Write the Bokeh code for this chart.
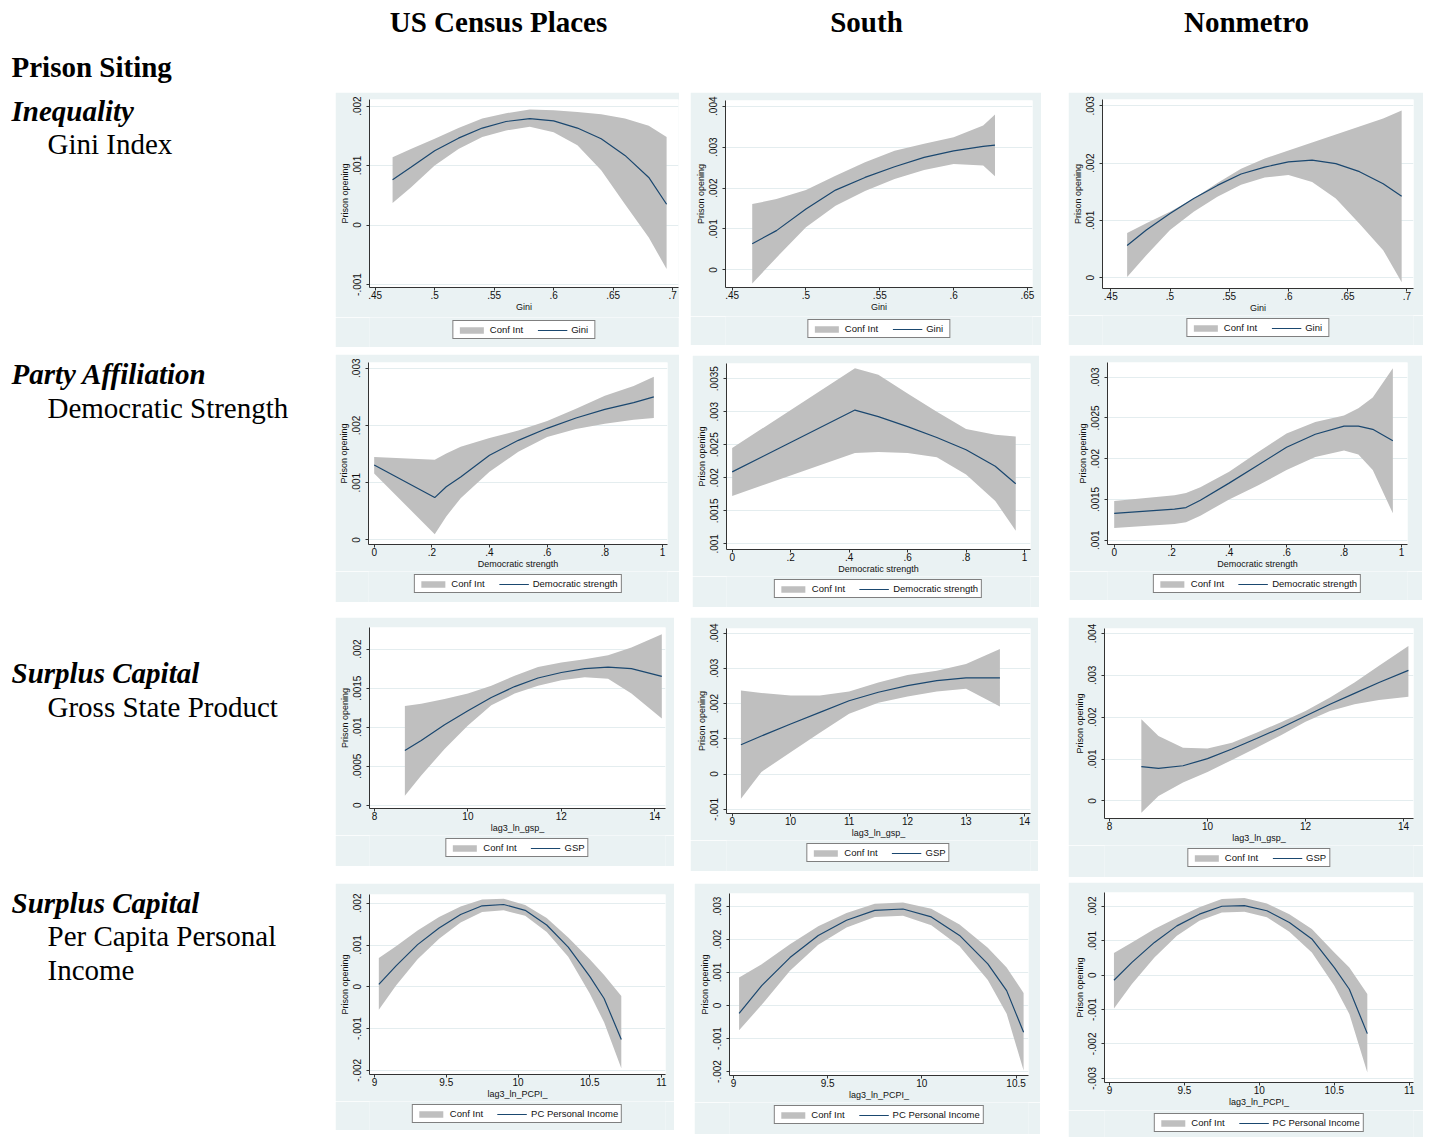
from bokeh.plotting import figure
from bokeh.models import Range1d, FixedTicker, CustomJSTickFormatter, Legend, LegendItem, Spacer
from bokeh.layouts import row, column
from bokeh.core.properties import value
from bokeh.embed import file_html
from bokeh.resources import INLINE

# ---------------- data ----------------
col_titles = ["US Census Places", "South", "Nonmetro"]

# Row 1: Gini
gini_us_x = [.4646, .48, .50, .52, .54, .56, .58, .60, .62, .64, .66, .68, .695]
gini_us_fit = [.00076, .00097, .00125, .00146, .00163, .00174, .00179, .00175, .00163, .00145, .00117, .0008, .00035]
gini_us_hi = [.00114, .00128, .00145, .00163, .00179, .00188, .00194, .00193, .0019, .00186, .00179, .00167, .00148]
gini_us_lo = [.00037, .00063, .001, .00128, .00148, .00159, .00165, .00156, .00134, .00092, .00035, -.00021, -.00074]

gini_south_x = [.4636, .48, .50, .52, .54, .56, .58, .60, .62, .628]
gini_south_fit = [.00064, .00096, .00149, .00195, .00226, .00252, .00275, .00291, .00302, .00305]
gini_south_hi = [.00161, .00173, .00195, .0023, .00263, .00291, .00308, .00324, .00353, .0038]
gini_south_lo = [-.00033, .0003, .00104, .00157, .00193, .00222, .00244, .00259, .00255, .00229]

gini_nm_x = [.4638, .48, .50, .52, .54, .56, .58, .60, .62, .64, .66, .68, .6956]
gini_nm_fit = [.00056, .00083, .00112, .00138, .00161, .00181, .00193, .00202, .00205, .00199, .00185, .00164, .00142]
gini_nm_hi = [.00078, .00095, .00115, .00138, .00165, .0019, .00208, .00222, .00236, .0025, .00264, .00278, .00292]
gini_nm_lo = [.00001, .00039, .00083, .00115, .00141, .00162, .00175, .00179, .00167, .00138, .00094, .00048, -.00008]

# Row 2: Democratic strength
dem_us_x = [0, .21, .25, .3, .4, .5, .6, .7, .8, .9, .97]
dem_us_fit = [.00131, .00074, .00093, .0011, .00148, .00174, .00195, .00213, .00228, .0024, .0025]
dem_us_hi = [.00145, .0014, .00151, .00163, .00178, .00191, .00208, .00229, .00252, .00269, .00285]
dem_us_lo = [.00116, .0001, .00041, .00073, .00119, .00154, .0018, .00194, .00203, .0021, .00213]

dem_south_x = [0, .42, .5, .6, .7, .8, .9, .97]
dem_south_fit = [.00209, .003025, .002925, .002775, .00261, .002425, .002175, .00191]
dem_south_hi = [.00245, .00366, .00356, .003275, .003, .00274, .00265, .002625]
dem_south_lo = [.001725, .002375, .00239, .002375, .00231, .00205, .00165, .0012]

dem_nm_x = [0, .21, .25, .3, .4, .5, .6, .7, .8, .85, .9, .97]
dem_nm_fit = [.00133, .00138, .0014, .00149, .0017, .00192, .00214, .0023, .0024, .0024, .00236, .00222]
dem_nm_hi = [.00148, .00155, .00158, .00165, .00184, .00208, .00231, .00245, .00253, .00262, .00275, .00311]
dem_nm_lo = [.00115, .0012, .00122, .0013, .0015, .00167, .00186, .00202, .0021, .00205, .00186, .00133]

# Row 3: Gross state product
gsp_us_x = [8.65, 9, 9.5, 10, 10.5, 11, 11.5, 12, 12.5, 13, 13.5, 14.15]
gsp_us_fit = [.0007, .00083, .00103, .00121, .00138, .00152, .00163, .0017, .00175, .00177, .00175, .00165]
gsp_us_hi = [.00127, .0013, .00136, .00143, .00153, .00166, .00177, .00183, .00187, .00192, .00202, .00219]
gsp_us_lo = [.00012, .00038, .00072, .00102, .00128, .00143, .00153, .0016, .00164, .00162, .00143, .00111]

gsp_south_x = [9.15, 9.5, 10, 10.5, 11, 11.5, 12, 12.5, 13, 13.58]
gsp_south_fit = [.00083, .00108, .00142, .00175, .00208, .00232, .00251, .00265, .00273, .00273]
gsp_south_hi = [.00237, .0023, .00223, .00223, .00234, .0026, .00281, .00293, .00312, .00355]
gsp_south_lo = [-.0007, .00006, .00062, .00117, .00171, .00202, .0022, .00234, .00242, .00192]

gsp_nm_x = [8.65, 9, 9.5, 10, 10.5, 11, 11.5, 12, 12.5, 13, 13.5, 14.1]
gsp_nm_fit = [.00082, .00078, .00084, .00101, .00124, .00149, .00175, .00203, .00231, .00257, .00283, .00312]
gsp_nm_hi = [.00195, .00155, .00127, .00125, .00139, .00163, .00188, .00215, .00247, .00283, .00323, .0037]
gsp_nm_lo = [-.00028, .00012, .00044, .00069, .00098, .00127, .00157, .00189, .00215, .00231, .00241, .00249]

# Row 4: Per capita personal income
pcpi_us_x = [9.03, 9.15, 9.3, 9.45, 9.6, 9.75, 9.9, 10.05, 10.2, 10.35, 10.5, 10.6, 10.72]
pcpi_us_fit = [.00006, .0005, .00101, .00141, .00173, .00194, .00197, .00183, .00148, .00095, .00025, -.00028, -.00126]
pcpi_us_hi = [.00069, .00097, .00135, .00167, .00192, .00209, .00211, .00196, .00165, .00118, .00066, .00028, -.00022]
pcpi_us_lo = [-.00055, .00003, .00066, .00115, .00154, .00179, .00183, .0017, .00131, .00072, -.00016, -.00085, -.00195]

pcpi_south_x = [9.03, 9.15, 9.3, 9.45, 9.6, 9.75, 9.9, 10.05, 10.2, 10.35, 10.45, 10.54]
pcpi_south_fit = [-.00024, .0006, .00145, .00212, .00258, .00288, .00292, .00268, .00212, .00126, .00045, -.00081]
pcpi_south_hi = [.00085, .00125, .00185, .0024, .0028, .00308, .00312, .00293, .00245, .00175, .00115, .00038]
pcpi_south_lo = [-.00075, .00002, .00105, .00184, .00236, .00268, .00272, .00243, .00179, .00077, -.00025, -.00197]

pcpi_nm_x = [9.03, 9.15, 9.3, 9.45, 9.6, 9.75, 9.9, 10.05, 10.2, 10.35, 10.5, 10.6, 10.72]
pcpi_nm_fit = [-.00015, .00037, .00095, .00143, .00177, .002, .00202, .00187, .00153, .00105, .00022, -.00041, -.0017]
pcpi_nm_hi = [.00064, .00095, .00134, .00167, .00197, .00221, .00224, .00208, .00177, .00134, .00066, .00022, -.00055]
pcpi_nm_lo = [-.00097, -.00026, .00051, .00114, .00158, .00182, .00184, .00168, .00126, .00066, -.00031, -.00113, -.00283]

# tick values
gini_x_ticks_a = [.45, .5, .55, .6, .65, .7]
gini_x_ticks_b = [.45, .5, .55, .6, .65]
dem_x_ticks = [0, .2, .4, .6, .8, 1]
gsp_x_ticks_a = [8, 10, 12, 14]
gsp_x_ticks_b = [9, 10, 11, 12, 13, 14]
pcpi_x_ticks_a = [9, 9.5, 10, 10.5, 11]
pcpi_x_ticks_b = [9, 9.5, 10, 10.5]

y_ticks_1 = [-.001, 0, .001, .002]
y_ticks_2 = [0, .001, .002, .003, .004]
y_ticks_3 = [0, .001, .002, .003]
y_ticks_4 = [0, .001, .002, .003]
y_ticks_5 = [.001, .0015, .002, .0025, .003, .0035]
y_ticks_6 = [.001, .0015, .002, .0025, .003]
y_ticks_7 = [0, .0005, .001, .0015, .002]
y_ticks_8 = [-.001, 0, .001, .002, .003, .004]
y_ticks_9 = [0, .001, .002, .003, .004]
y_ticks_10 = [-.002, -.001, 0, .001, .002]
y_ticks_11 = [-.002, -.001, 0, .001, .002, .003]
y_ticks_12 = [-.003, -.002, -.001, 0, .001, .002]

x_titles = ["Gini", "Democratic strength", "lag3_ln_gsp_", "lag3_ln_PCPI_"]
series_names = ["Gini", "Democratic strength", "GSP", "PC Personal Income"]
band_name = "Conf Int"
y_title = "Prison opening"

row_labels = ["Inequality", "Party Affiliation", "Surplus Capital", "Surplus Capital"]
var_labels = ["Gini Index", "Democratic Strength", "Gross State Product", "Per Capita Personal", "Income"]
section_label = "Prison Siting"

# ---------------- styling ----------------
BG = "#eaf2f3"
BAND = "#bfbfbf"
LINE = "#1a476f"
SANS = "Liberation Sans"
SERIF = "Liberation Serif"

FMT = CustomJSTickFormatter(code="""
const s = Number(tick.toPrecision(6)).toString();
return s.replace(/^(-?)0\\./, "$1.");
""")


def panel(spec, xs, fit, lo, hi, xlabel, lname, xticks, yticks):
    x0, y0, w, h = spec["box"]
    fl, ft, fr, fb = spec["frame"]
    ly = spec["leg"]
    split = ly - 3               # where the legend strip starts
    hm = split - y0
    p = figure(width=w, height=hm, output_backend="svg", toolbar_location=None,
               x_range=Range1d(*spec["xr"]), y_range=Range1d(*spec["yr"]),
               min_border_left=fl - x0, min_border_top=ft - y0,
               min_border_right=x0 + w - fr, min_border_bottom=split - fb)
    p.background_fill_color = "white"
    p.border_fill_color = BG
    p.outline_line_color = None
    p.varea(x=xs, y1=lo, y2=hi, fill_color=BAND, fill_alpha=1)
    p.line(xs, fit, line_color=LINE, line_width=1.2)

    p.xaxis.ticker = FixedTicker(ticks=xticks)
    p.yaxis.ticker = FixedTicker(ticks=yticks)
    p.ygrid.ticker = FixedTicker(ticks=yticks)
    p.xgrid.visible = False
    p.ygrid.grid_line_color = "#e4edef"
    p.ygrid.grid_line_width = 1
    p.xaxis.formatter = FMT
    p.yaxis.formatter = FMT
    for ax in (p.xaxis[0], p.yaxis[0]):
        ax.axis_line_color = "#333333"
        ax.major_tick_line_color = "#333333"
        ax.minor_tick_line_color = None
        ax.major_tick_in = 0
        ax.major_tick_out = 3
        ax.major_label_text_font = SANS
        ax.major_label_text_font_size = "10px"
        ax.major_label_text_color = "#111111"
        ax.axis_label_text_font = SANS
        ax.axis_label_text_font_size = "9px"
        ax.axis_label_text_font_style = "normal"
        ax.axis_label_text_color = "#111111"
    p.xaxis.axis_label = xlabel
    p.xaxis.major_label_standoff = 0
    p.xaxis.axis_label_standoff = 0
    p.yaxis.axis_label = y_title
    p.yaxis.major_label_orientation = "vertical"
    p.yaxis.major_label_standoff = 5
    p.yaxis.axis_label_standoff = 1

    # legend strip: a small figure under the panel; its key glyphs reuse the
    # panel's series but sit outside that strip's visible range
    lf = figure(width=w, height=h - hm, output_backend="svg", toolbar_location=None,
                x_range=Range1d(-2, -1), y_range=Range1d(-2, -1),
                x_axis_type=None, y_axis_type=None,
                min_border_left=fl - x0, min_border_right=x0 + w - fr,
                min_border_top=0, min_border_bottom=0)
    lf.grid.visible = False
    lf.outline_line_color = None
    lf.background_fill_color = BG
    lf.border_fill_color = BG
    kb = lf.varea(x=xs, y1=lo, y2=hi, fill_color=BAND, fill_alpha=1)
    kl = lf.line(x=xs, y=fit, line_color=LINE, line_width=1.2)
    legend = Legend(items=[LegendItem(label=band_name, renderers=[kb]),
                           LegendItem(label=lname, renderers=[kl])],
                    orientation="horizontal", location="top_center",
                    margin=3, padding=3, spacing=14,
                    glyph_width=30, glyph_height=8, label_standoff=4, label_height=8,
                    label_text_font=SANS, label_text_font_size="9.5px",
                    label_text_color="#111111",
                    border_line_color="black", border_line_width=1,
                    background_fill_color="white", background_fill_alpha=1)
    lf.add_layout(legend, "center")
    return column(p, lf)


specs = [
    dict(box=(335, 92, 344, 255), frame=(369, 99, 678, 287), xr=(.4452, .7050), yr=(-.00105, .00211), leg=320),
    dict(box=(690, 92, 351, 253), frame=(725, 100, 1032, 287), xr=(.4455, .6534), yr=(-.00043, .00414), leg=319),
    dict(box=(1068, 92, 355, 253), frame=(1102, 99, 1413, 288), xr=(.4430, .7056), yr=(-.00019, .00311), leg=318),
    dict(box=(335, 354, 344, 248), frame=(368, 362, 667, 545), xr=(-.0197, 1.0174), yr=(-.00008, .0031), leg=574),
    dict(box=(692, 355, 347, 252), frame=(726, 363, 1030, 550), xr=(-.0194, 1.0205), yr=(.000915, .00373), leg=579),
    dict(box=(1069, 355, 353, 245), frame=(1107, 362, 1407, 545), xr=(-.0233, 1.021), yr=(.000947, .00318), leg=574),
    dict(box=(335, 617, 339, 249), frame=(369, 627, 665, 808), xr=(7.893, 14.229), yr=(-.0000426, .002277), leg=838),
    dict(box=(690, 617, 348, 254), frame=(726, 628, 1030, 813), xr=(8.903, 14.103), yr=(-.00112, .00413), leg=843),
    dict(box=(1068, 617, 355, 260), frame=(1104, 628, 1413, 818), xr=(7.898, 14.204), yr=(-.00042, .00412), leg=848),
    dict(box=(335, 883, 339, 247), frame=(369, 894, 665, 1074), xr=(8.965, 11.028), yr=(-.0021, .00221), leg=1104),
    dict(box=(694, 883, 346, 251), frame=(729, 893, 1028, 1075), xr=(8.979, 10.566), yr=(-.00212, .00339), leg=1105),
    dict(box=(1068, 882, 355, 255), frame=(1104, 892, 1413, 1082), xr=(8.967, 11.028), yr=(-.00312, .0024), leg=1113),
]

series = [
    (gini_us_x, gini_us_fit, gini_us_lo, gini_us_hi, 0, gini_x_ticks_a, y_ticks_1),
    (gini_south_x, gini_south_fit, gini_south_lo, gini_south_hi, 0, gini_x_ticks_b, y_ticks_2),
    (gini_nm_x, gini_nm_fit, gini_nm_lo, gini_nm_hi, 0, gini_x_ticks_a, y_ticks_3),
    (dem_us_x, dem_us_fit, dem_us_lo, dem_us_hi, 1, dem_x_ticks, y_ticks_4),
    (dem_south_x, dem_south_fit, dem_south_lo, dem_south_hi, 1, dem_x_ticks, y_ticks_5),
    (dem_nm_x, dem_nm_fit, dem_nm_lo, dem_nm_hi, 1, dem_x_ticks, y_ticks_6),
    (gsp_us_x, gsp_us_fit, gsp_us_lo, gsp_us_hi, 2, gsp_x_ticks_a, y_ticks_7),
    (gsp_south_x, gsp_south_fit, gsp_south_lo, gsp_south_hi, 2, gsp_x_ticks_b, y_ticks_8),
    (gsp_nm_x, gsp_nm_fit, gsp_nm_lo, gsp_nm_hi, 2, gsp_x_ticks_a, y_ticks_9),
    (pcpi_us_x, pcpi_us_fit, pcpi_us_lo, pcpi_us_hi, 3, pcpi_x_ticks_a, y_ticks_10),
    (pcpi_south_x, pcpi_south_fit, pcpi_south_lo, pcpi_south_hi, 3, pcpi_x_ticks_b, y_ticks_11),
    (pcpi_nm_x, pcpi_nm_fit, pcpi_nm_lo, pcpi_nm_hi, 3, pcpi_x_ticks_a, y_ticks_12),
]

plots = []
for spec, s in zip(specs, series):
    xs, fit, lo, hi, k, xt, yt = s
    p = panel(spec, xs, fit, lo, hi, x_titles[k], series_names[k], xt, yt)
    plots.append((p, spec["box"]))


# ---------------- text figures ----------------
def text_fig(w, h):
    f = figure(width=w, height=h, output_backend="svg", toolbar_location=None,
               x_range=Range1d(0, w), y_range=Range1d(h, 0),
               x_axis_type=None, y_axis_type=None, min_border=0)
    f.grid.visible = False
    f.outline_line_color = None
    f.background_fill_color = "white"
    f.border_fill_color = "white"
    return f


TOP = 92
header = text_fig(1430, TOP)
header.text(x=[498, 866, 1246], y=[21, 21, 21], text=col_titles,
            text_font=value(SERIF), text_font_size=value("29px"), text_font_style="bold",
            text_align="center", text_baseline="middle", text_color="black")
header.text(x=[11], y=[66], text=[section_label],
            text_font=value(SERIF), text_font_size=value("29px"), text_font_style="bold",
            text_align="left", text_baseline="middle", text_color="black")

leftfig = text_fig(335, 1137 - TOP)
cat_y = [110, 373, 672, 902]
var_y = [143, 407, 706, 935, 969]
leftfig.text(x=[11] * 4, y=[v - TOP for v in cat_y], text=row_labels,
             text_font=value(SERIF), text_font_size=value("29px"), text_font_style="bold italic",
             text_align="left", text_baseline="middle", text_color="black")
leftfig.text(x=[47] * 5, y=[v - TOP for v in var_y], text=var_labels,
             text_font=value(SERIF), text_font_size=value("29px"), text_font_style="normal",
             text_align="left", text_baseline="middle", text_color="black")


# ---------------- layout ----------------
def build_col(colx, colw, items):
    kids = []
    cur = TOP
    for p, (x0, y0, w, h) in items:
        if y0 > cur:
            kids.append(Spacer(width=colw, height=y0 - cur))
        parts = []
        if x0 > colx:
            parts.append(Spacer(width=x0 - colx, height=h))
        parts.append(p)
        rest = colx + colw - (x0 + w)
        if rest > 0:
            parts.append(Spacer(width=rest, height=h))
        kids.append(row(*parts))
        cur = y0 + h
    return column(*kids)


col1 = build_col(335, 353, [plots[0], plots[3], plots[6], plots[9]])
col2 = build_col(688, 378, [plots[1], plots[4], plots[7], plots[10]])
col3 = build_col(1066, 364, [plots[2], plots[5], plots[8], plots[11]])

layout = column(header, row(leftfig, col1, col2, col3))

open("out.html", "w").write(file_html(layout, INLINE))
